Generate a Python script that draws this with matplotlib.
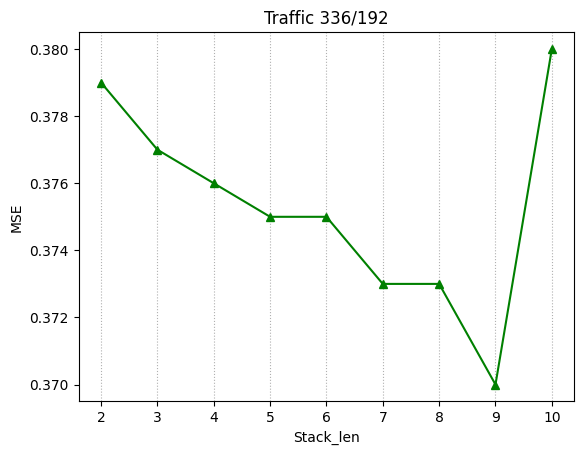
import matplotlib
matplotlib.use("Agg")
import matplotlib.pyplot as plt

stack_len = [2, 3, 4, 5, 6, 7, 8, 9, 10]
mse = [0.379, 0.377, 0.376, 0.375, 0.375, 0.373, 0.373, 0.370, 0.380]

fig, ax = plt.subplots(figsize=(5.84, 4.55), dpi=100)
fig.subplots_adjust(left=0.1345, right=0.9835, top=0.929, bottom=0.118)

ax.plot(stack_len, mse, color="green", marker="^")
ax.set_title("Traffic 336/192")
ax.set_xlabel("Stack_len")
ax.set_ylabel("MSE")
ax.set_xticks(stack_len)
ax.grid(axis="x", linestyle=":", color="#b0b0b0")

fig.savefig("out.png", dpi=100)
